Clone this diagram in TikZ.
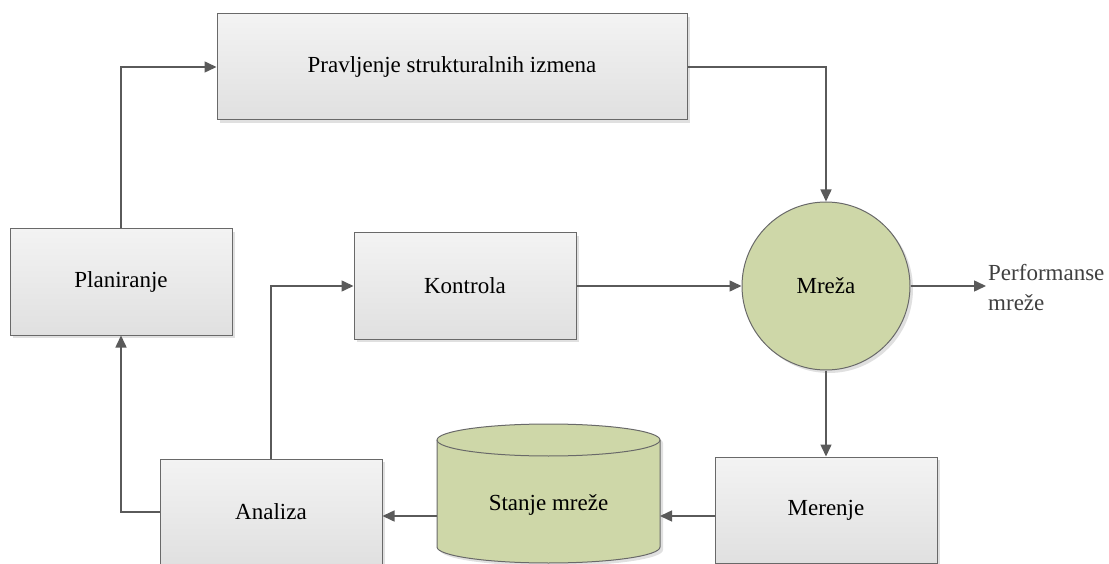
\documentclass[tikz,border=0pt]{standalone}
\usepackage{fontspec}
\setmainfont{Liberation Serif}
\usetikzlibrary{arrows.meta,shadows}
\definecolor{edge}{RGB}{90,90,90}
\definecolor{border}{RGB}{105,105,105}
\definecolor{olive}{RGB}{206,215,168}
\definecolor{boxtop}{RGB}{243,243,243}
\definecolor{boxbot}{RGB}{224,224,224}
\newcommand{\diagfont}{\fontsize{23}{27}\selectfont}
\tikzset{
  procbox/.style={rectangle, draw=border, line width=1pt,
    top color=boxtop, bottom color=boxbot,
    minimum width=222pt, minimum height=106pt, inner sep=0pt,
    font=\diagfont,
    drop shadow={shadow xshift=3pt, shadow yshift=-3pt, fill=black, opacity=0.12}},
  netnode/.style={circle, draw=border, line width=1pt, fill=olive,
    minimum size=168pt, inner sep=0pt, font=\diagfont,
    drop shadow={shadow xshift=3pt, shadow yshift=-3pt, fill=black, opacity=0.12}},
  plaintext/.style={inner sep=0pt, font=\diagfont},
  arr/.style={draw=edge, line width=1.5pt, -{Triangle[length=12pt,width=11pt]}},
}
\begin{document}
\begin{tikzpicture}[x=1pt,y=-1pt]
\useasboundingbox (0,0) rectangle (1109,564);

% process boxes
\node[procbox] (plan) at (121,282) {Planiranje};
\node[procbox, minimum width=470pt] (prav) at (452,67) {Pravljenje strukturalnih izmena};
\node[procbox] (kontrola) at (465,286) {Kontrola};
\node[procbox] (analiza) at (271,512) {Analiza};
\node[procbox] (merenje) at (826,510) {Merenje};

% the network
\node[netnode] (mreza) at (826,286) {Mreža};

% data store (cylinder)
\fill[black, opacity=0.12]
  (440,443) -- (440,550) arc[start angle=180,end angle=360,x radius=111.5pt,y radius=16pt]
  -- (663,443) arc[start angle=0,end angle=180,x radius=111.5pt,y radius=16pt] -- cycle;
\path[draw=border, line width=1pt, fill=olive]
  (437,440) -- (437,547) arc[start angle=180,end angle=360,x radius=111.5pt,y radius=16pt]
  -- (660,440) arc[start angle=0,end angle=180,x radius=111.5pt,y radius=16pt] -- cycle;
\draw[border, line width=1pt]
  (437,440) arc[start angle=180,end angle=360,x radius=111.5pt,y radius=16pt];
\node[plaintext] (db) at (548.5,505) {Stanje mreže};
\coordinate (dbE) at (660,516);
\coordinate (dbW) at (437,516);

% output label
\node[anchor=west, inner sep=2pt, align=left, text=black!75,
  font=\fontsize{23}{30}\selectfont] (perf) at (986,288) {Performanse\\mreže};

% connectors
\draw[arr] (plan.north) |- (prav.west);
\draw[arr] (prav.east) -| (mreza.north);
\draw[arr] (kontrola.east) -- (mreza.west);
\draw[arr] (mreza.east) -- (perf.west |- mreza.east);
\draw[arr] (mreza.south) -- (merenje.north);
\draw[arr] (merenje.west |- dbE) -- (dbE);
\draw[arr] (dbW) -- (analiza.east |- dbW);
\draw[arr] (analiza.west) -| (plan.south);
\draw[arr] (analiza.north) |- (kontrola.west);
\end{tikzpicture}
\end{document}
